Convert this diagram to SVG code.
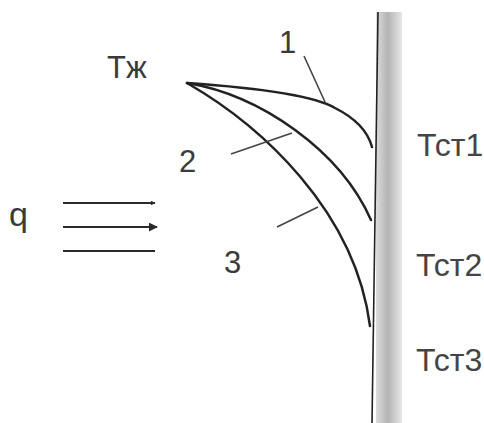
<svg xmlns="http://www.w3.org/2000/svg" width="484" height="423" viewBox="0 0 484 423">
  <style>
    .lbl { font-family: "Liberation Sans", Arial, sans-serif; font-size: 31px; fill: #3a3a3a; }
    .tst { font-family: "Liberation Sans", Arial, sans-serif; font-size: 32px; fill: #444444; }
    .curve { fill: none; stroke: #222; stroke-width: 2.5; stroke-linecap: round; }
    .leader { fill: none; stroke: #444; stroke-width: 1.6; }
    .flow { fill: none; stroke: #2a2a2a; stroke-width: 1.8; }
  </style>
  <defs>
    <linearGradient id="wallGrad" x1="0" y1="0" x2="1" y2="0">
      <stop offset="0" stop-color="#dcdcdc"/>
      <stop offset="0.45" stop-color="#b4b4b4"/>
      <stop offset="1" stop-color="#e6e6e6"/>
    </linearGradient>
    <marker id="arrowBig" viewBox="0 0 10 10" refX="9" refY="5" markerWidth="5" markerHeight="5" orient="auto" markerUnits="strokeWidth">
      <path d="M0,0 L10,5 L0,10 Z" fill="#2a2a2a"/>
    </marker>
    <marker id="arrowSmall" viewBox="0 0 10 10" refX="9" refY="5" markerWidth="4" markerHeight="2.5" orient="auto" markerUnits="strokeWidth">
      <path d="M0,0 L10,5 L0,10 Z" fill="#2a2a2a"/>
    </marker>
  </defs>
  <rect width="484" height="423" fill="#ffffff"/>

  <g id="wall">
    <rect x="376" y="12" width="26" height="411" fill="url(#wallGrad)"/>
    <line x1="378" y1="12" x2="372" y2="423" stroke="#222" stroke-width="1.6"/>
  </g>

  <g id="connectors">
    <path id="curve1" class="curve" d="M187,83 C260,88 315,96 335,108 C355,118 368,132 372,147"/>
    <path id="curve2" class="curve" d="M187,83 C260,95 340,150 371,220"/>
    <path id="curve3" class="curve" d="M187,83 C260,125 355,210 370,326"/>
    <line class="leader" x1="304" y1="56" x2="325" y2="102"/>
    <line class="leader" x1="231" y1="154" x2="292" y2="133"/>
    <line class="leader" x1="277" y1="227" x2="318" y2="207"/>
    <line class="flow" x1="63" y1="203" x2="155" y2="203" marker-end="url(#arrowSmall)"/>
    <line class="flow" x1="63" y1="227" x2="157" y2="227" marker-end="url(#arrowBig)"/>
    <line class="flow" x1="63" y1="251" x2="155" y2="251"/>
  </g>

  <g id="label-Tzh"><text class="lbl" x="107" y="78">Тж</text></g>
  <g id="label-1"><text class="lbl" x="279" y="53">1</text></g>
  <g id="label-2"><text class="lbl" x="179" y="172">2</text></g>
  <g id="label-3"><text class="lbl" x="224" y="273">3</text></g>
  <g id="label-q"><text class="lbl" x="9" y="226" style="font-size:34px">q</text></g>
  <g id="label-Tst1"><text class="tst" x="417" y="156">Тст1</text></g>
  <g id="label-Tst2"><text class="tst" x="416" y="276">Тст2</text></g>
  <g id="label-Tst3"><text class="tst" x="416" y="371">Тст3</text></g>
</svg>
